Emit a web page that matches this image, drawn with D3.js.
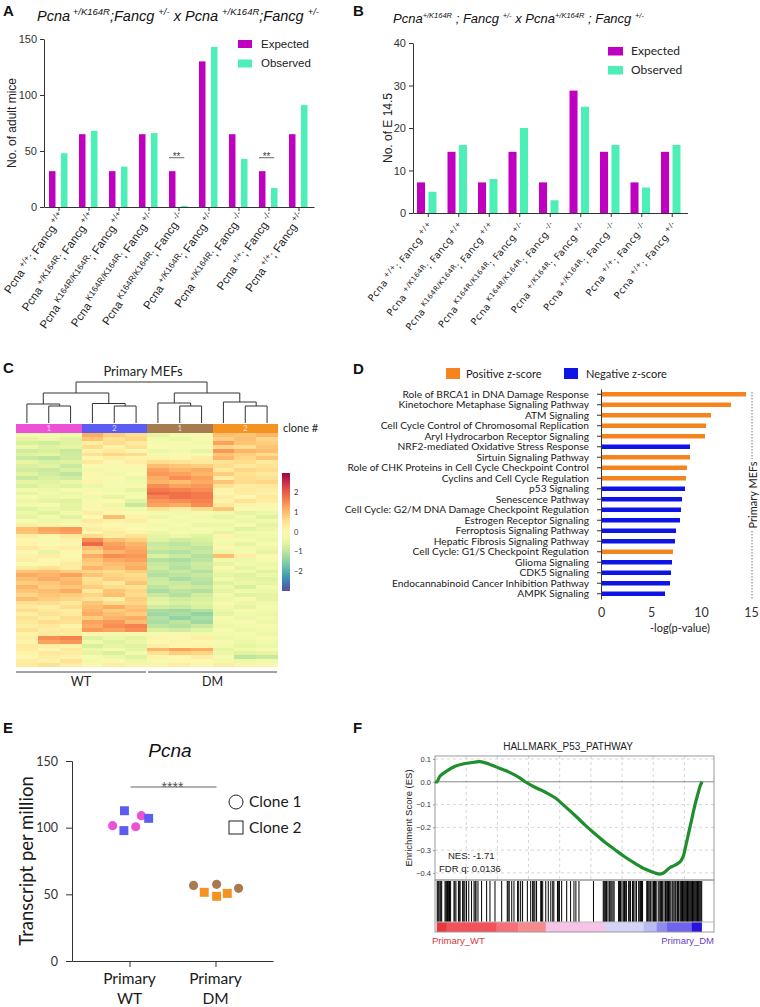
<!DOCTYPE html>
<html><head><meta charset="utf-8">
<script src="https://cdn.jsdelivr.net/npm/d3@7/dist/d3.min.js"></script>
<style>html,body{margin:0;padding:0;background:#fff}svg{display:block}</style>
</head><body>
<svg id="fig" width="760" height="1007" xmlns="http://www.w3.org/2000/svg"></svg>
<script>
// ================= DATA =================
const seriesNames = ["Expected", "Observed"];
const pcnaGenotype = ["+/+","+/K164R","K164R/K164R","K164R/K164R","K164R/K164R","+/K164R","+/K164R","+/+","+/+"];
const fancgGenotype = ["+/+","+/+","+/+","+/-","-/-","+/-","-/-","-/-","+/-"];
// Panel A
const adultExpected = [32,65,32,65,32,130,65,32,65];
const adultObserved = [48,68,36,66,1,143,43,17,91];
const adultTicks = [0,50,100,150];
const adultSigGroups = [4,7];
const adultSigLevel = 44;
// Panel B
const embryoExpected = [7.2,14.4,7.2,14.4,7.2,28.8,14.4,7.2,14.4];
const embryoObserved = [5,16,8,20,3,25,16,6,16];
const embryoTicks = [0,10,20,30,40];
// Panel C
const sampleGroup = ["WT1","WT1","WT1","WT2","WT2","WT2","DM1","DM1","DM1","DM2","DM2","DM2"];
const groupClone = {WT1:"1", WT2:"2", DM1:"1", DM2:"2"};
const genotypeNames = ["WT","DM"];
const colorbarTicks = [2,1,0,-1,-2];
const dendrogram = {h:41, c:[
  {h:30, c:[{h:19, c:[{leaf:0},{h:17, c:[{leaf:1},{leaf:2}]}]},
            {h:19.5, c:[{leaf:3},{h:17, c:[{leaf:4},{leaf:5}]}]}]},
  {h:30, c:[{h:20, c:[{leaf:6},{h:17, c:[{leaf:7},{leaf:8}]}]},
            {h:21, c:[{leaf:9},{h:17, c:[{leaf:10},{leaf:11}]}]}]}]};
const heatValues = [
[-0.2,-0.1,-0.3, 1.2,0.8,0.6, -0.5,-0.3,-0.2, 1.0,0.9,1.1],
[-0.5,-0.4,-0.6, 0.9,0.5,0.7, -0.3,-0.4,-0.1, 0.8,1.0,0.7],
[-0.7,-0.8,-0.6, 0.3,0.6,0.4, -0.2,-0.1,-0.3, 1.3,0.9,0.8],
[-0.4,-0.6,-0.5, 0.6,0.2,0.5, 0.0,-0.2,-0.1, 0.7,0.6,0.9],
[-0.8,-0.7,-0.9, 0.2,0.4,0.1, -0.4,-0.3,-0.5, 1.4,1.1,1.0],
[-0.6,-0.5,-0.8, 0.5,0.7,0.6, -0.1,0.0,-0.2, 0.9,0.8,0.6],
[-0.9,-1.0,-0.8, 0.1,0.3,0.2, 0.2,0.1,0.3, 1.1,0.7,0.9],
[-0.5,-0.7,-0.6, 0.4,0.1,0.3, 0.6,0.5,0.4, 0.5,0.6,0.4],
[-0.7,-0.6,-0.9, 0.0,-0.2,0.1, 1.0,0.9,0.8, 0.6,0.4,0.5],
[-0.8,-0.9,-0.7, -0.3,-0.1,-0.2, 1.3,1.1,1.2, 0.4,0.7,0.6],
[-0.6,-0.8,-1.0, 0.1,-0.3,0.0, 1.4,1.3,1.1, 0.8,0.5,0.4],
[-0.9,-0.7,-0.8, -0.2,0.0,-0.4, 1.2,1.5,1.3, 0.3,0.6,0.5],
[-0.5,-0.6,-0.4, 0.2,-0.1,-0.3, 1.1,1.0,1.2, 0.9,0.6,0.7],
[-0.7,-0.5,-0.6, -0.4,-0.2,-0.1, 1.5,1.3,1.4, 0.5,0.3,0.4],
[-0.3,-0.4,-0.2, -0.1,-0.3,-0.5, 1.7,1.6,1.5, 0.2,0.4,0.3],
[-0.5,-0.3,-0.4, 0.0,-0.2,-0.3, 1.9,1.8,1.7, 0.1,0.3,0.2],
[-0.2,-0.4,-0.3, -0.3,-0.5,-0.2, 1.6,1.8,1.7, 0.3,0.1,0.4],
[-0.4,-0.5,-0.6, -0.2,0.0,-0.6, 1.4,1.5,1.6, 0.2,0.5,0.3],
[-0.3,-0.2,-0.5, 0.1,-0.4,-0.9, 1.3,1.2,1.5, 0.4,0.2,0.1],
[-0.6,-0.4,-0.5, -0.1,0.2,-0.3, 0.5,0.3,0.6, 0.9,0.0,-0.2],
[-0.4,-0.6,-0.3, 0.3,0.1,0.0, -0.2,-0.3,-0.1, -0.3,-0.5,-0.4],
[-0.5,-0.3,-0.6, 0.0,1.0,0.2, -0.4,-0.2,-0.3, -0.5,-0.3,-0.6],
[-0.2,-0.4,-0.3, 0.4,0.2,0.3, 0.0,-0.3,-0.2, -0.2,-0.4,-0.3],
[0.3,0.2,0.1, 0.2,0.1,-0.1, -0.3,-0.1,-0.4, -0.4,-0.2,-0.5],
[1.0,1.3,1.4, 0.3,0.2,0.0, -0.2,-0.3,-0.1, -0.3,-0.6,-0.4],
[0.9,1.2,1.3, 0.1,0.4,0.2, -0.4,-0.2,-0.3, -0.5,-0.3,-0.2],
[0.3,0.1,0.4, 0.6,0.3,0.5, -0.5,-0.4,-0.6, 0.2,-0.4,-0.3],
[0.1,-0.2,0.2, 1.5,1.0,0.8, -0.6,-0.8,-0.7, -0.2,-0.1,-0.4],
[0.2,0.0,0.1, 1.9,1.3,1.1, -0.9,-1.0,-0.8, -0.3,-0.5,-0.2],
[0.4,0.2,0.3, 1.0,1.4,1.2, -0.8,-0.9,-1.0, 0.1,-0.3,-0.4],
[0.0,-0.5,0.1, 0.7,1.1,1.3, -1.0,-1.1,-0.9, -0.4,-0.2,-0.5],
[0.2,0.3,0.0, 1.2,1.5,1.4, -0.7,-0.9,-1.1, 1.0,0.3,0.0],
[0.3,0.1,0.2, 0.9,1.2,1.3, -1.1,-1.2,-1.0, -0.3,-0.4,-0.2],
[-0.2,0.1,0.4, 0.8,1.0,1.1, -0.9,-1.0,-0.8, -0.5,-0.3,-0.4],
[0.4,0.5,0.3, 1.1,0.9,1.2, -0.8,-1.1,-0.9, -0.2,-0.5,-0.3],
[0.9,1.0,0.8, 0.7,0.6,0.8, -1.0,-0.9,-1.1, -0.4,-0.3,-0.6],
[1.2,1.1,1.3, 0.9,0.7,0.6, -1.1,-1.0,-0.9, -0.5,-0.6,-0.4],
[1.0,1.2,1.0, 0.5,0.8,0.7, -0.9,-1.2,-1.0, -0.3,-0.5,-0.6],
[0.8,0.9,1.1, 0.6,0.4,0.9, -0.8,-0.9,-1.1, -0.6,-0.4,-0.5],
[1.1,0.8,0.9, 0.8,0.6,0.5, -1.0,-0.8,-0.9, -0.4,-0.7,-0.3],
[0.9,1.0,1.2, 0.4,0.9,0.7, -1.2,-1.0,-1.1, -0.5,-0.3,-0.4],
[0.7,0.9,0.8, 0.7,1.0,0.6, -0.9,-1.1,-0.8, -0.3,-0.6,-0.5],
[1.0,0.8,0.7, 0.5,0.3,0.8, -0.6,-0.8,-0.7, -0.4,-0.2,-0.5],
[0.5,0.6,0.4, 0.9,0.6,0.7, -0.5,-0.7,-0.6, -0.2,-0.4,-0.3],
[0.4,0.3,0.6, 1.0,1.2,0.9, -0.8,-0.9,-0.7, -0.3,-0.5,-0.2],
[0.6,0.4,0.3, 1.1,0.8,1.0, -1.2,-1.3,-1.1, -0.4,-0.2,-0.3],
[0.3,0.5,0.4, 1.2,1.0,0.8, -1.3,-1.2,-1.4, -0.5,-0.3,-0.4],
[0.5,0.3,0.6, 0.8,1.1,1.2, -1.1,-1.4,-1.2, -0.2,-0.4,-0.3],
[0.4,0.6,0.5, 1.3,1.4,1.0, -1.2,-1.0,-1.3, -0.3,-0.1,-0.4],
[0.3,0.4,0.2, 1.2,1.5,1.6, -1.0,-1.1,-0.9, -0.4,-0.3,-0.2],
[0.5,0.3,0.4, 1.4,1.3,1.5, -0.7,-0.8,-0.6, -0.2,-0.4,-0.3],
[0.2,0.4,0.3, 0.1,-0.3,-0.2, -0.2,-0.1,-0.3, -0.3,-0.2,-0.4],
[0.3,1.5,1.6, -0.6,-0.4,-0.5, 0.2,0.1,0.3, -0.4,-0.3,-0.2],
[0.2,1.3,1.4, -0.3,-0.6,-0.4, 0.0,0.2,0.1, -0.2,-0.4,-0.3],
[0.4,0.3,0.2, -0.7,-0.5,-0.6, 0.3,0.1,0.2, -0.3,-0.5,-0.4],
[0.3,0.1,0.4, -0.4,-0.2,-0.5, 1.1,1.3,1.2, -0.5,-0.3,-0.2],
[0.2,0.4,0.3, -0.5,-0.7,-0.3, 0.5,0.8,0.7, -0.4,-0.6,-0.5],
[0.1,0.3,0.2, -0.2,-0.4,-0.6, 0.2,0.0,0.3, -0.2,-1.0,-0.9],
[0.3,0.2,0.5, -0.3,-0.1,-0.4, -0.2,0.1,0.0, -0.3,-0.4,-0.3],
[0.4,0.5,0.3, 0.1,0.3,0.2, 0.2,0.3,0.1, 0.3,0.2,0.1]];
// Panel D
const pathwayNames = ["Role of BRCA1 in DNA Damage Response","Kinetochore Metaphase Signaling Pathway","ATM Signaling",
 "Cell Cycle Control of Chromosomal Replication","Aryl Hydrocarbon Receptor Signaling","NRF2-mediated Oxidative Stress Response",
 "Sirtuin Signaling Pathway","Role of CHK Proteins in Cell Cycle Checkpoint Control","Cyclins and Cell Cycle Regulation",
 "p53 Signaling","Senescence Pathway","Cell Cycle: G2/M DNA Damage Checkpoint Regulation","Estrogen Receptor Signaling",
 "Ferroptosis Signaling Pathway","Hepatic Fibrosis Signaling Pathway","Cell Cycle: G1/S Checkpoint Regulation",
 "Glioma Signaling","CDK5 Signaling","Endocannabinoid Cancer Inhibition Pathway","AMPK Signaling"];
const pathwayLogP = [14.5,13.0,11.0,10.5,10.4,8.9,8.9,8.6,8.5,8.4,8.1,8.0,7.9,7.5,7.4,7.2,7.1,7.0,6.9,6.4];
const pathwayZ = ["pos","pos","pos","pos","pos","neg","pos","pos","pos","neg","neg","neg","neg","neg","neg","pos","neg","neg","neg","neg"];
const logPTicks = [0,5,10,15];
// Panel E
const tpmCategories = ["WT","DM"];
const tpmGroup = ["WT","WT","WT","WT","WT","WT","DM","DM","DM","DM","DM","DM"];
const tpmClone = [1,1,1,2,2,2,1,1,1,2,2,2];
const tpmValue = [101.5,100.7,109.0,112.7,97.8,107.0, 56.7,57.5,54.5,51.5,48.5,50.7];
const tpmDodge = [-1.5,0.55,1.05,-0.45,-0.5,1.7, -1.95,0.1,2.05,-1.0,0.1,1.05];
const tpmTicks = [0,50,100,150];
const tpmSigLevel = 130.5;
// Panel F
const esRankPct = [0,0.7,1.8,4.3,7.2,10.8,14.3,16.1,19.7,23.3,26.9,30.5,32.3,35.8,39.4,43.0,46.6,50.2,53.8,57.3,60.9,64.5,68.1,71.7,75.3,78.9,80.6,82.4,84.2,86.0,87.8,88.9,89.9,91.0,92.1,93.2,94.3,95.0,95.7];
const esScore = [0,0,0.025,0.048,0.068,0.08,0.086,0.088,0.076,0.058,0.04,0.016,0,-0.024,-0.045,-0.07,-0.108,-0.148,-0.19,-0.228,-0.265,-0.298,-0.33,-0.358,-0.383,-0.4,-0.405,-0.396,-0.376,-0.366,-0.352,-0.33,-0.28,-0.22,-0.16,-0.1,-0.05,-0.02,0];
const hitRankPct = [0.8,1.1,1.4,1.8,2.1,2.4,3.6,3.9,4.2,4.5,4.8,5.2,5.6,6.8,7.1,7.5,8.4,8.7,9.0,9.9,10.3,10.7,11.3,12.1,13.1,14.0,14.4,14.7,15.4,16.7,18.5,19.7,21.5,23.9,25.9,26.2,26.6,27.5,28.3,29.6,30.0,30.7,31.4,33.1,34.3,35.0,35.4,35.8,36.4,37.9,38.2,38.6,39.7,40.6,41.5,42.2,42.6,43.9,44.2,44.6,45.4,47.2,48.6,49.8,50.5,51.6,56.8,
 60.3,60.6,60.9,61.2,61.5,62.0,62.5,63.0,63.4,63.8,64.2,65.8,66.1,66.5,67.0,67.5,67.9,68.2,68.6,69.4,69.8,70.1,70.8,71.2,71.7,72.2,73.0,73.4,73.7,74.0,74.4,75.9,76.2,76.6,77.0,77.3,77.8,78.3,78.7,79.0,79.5,80.2,80.6,80.9,81.2,81.6,82.1,82.6,82.9,83.3,83.7,84.0,84.5,85.0,85.3,85.7,86.1,86.4,86.9,87.3,
 87.8,88.1,88.4,88.7,89.0,89.3,89.6,89.9,90.2,90.5,90.8,91.1,91.4,91.7,92.0,92.3,92.6,92.9,93.2,93.5,93.8,94.1,94.4,94.7,95.0,95.3,95.6];
const rankBarEdges = [0.6,4.2,22.1,29.9,39.7,60.9,74.7,79.4,83.0,92.0,95.6];
const geneListSize = 17900;
const esTicks = [0.1,0.0,-0.1,-0.2,-0.3,-0.4];
const nesText = "NES: -1.71";
const fdrText = "FDR q: 0.0136";

// ================= STYLE =================
const svg = d3.select("#fig");
const ARIAL = "'Liberation Sans', Arial, sans-serif";
const MYR = "Lato, 'Open Sans', sans-serif";
const VERD = "'DejaVu Sans', Verdana, sans-serif";
const COL = {Expected:"#bf00c0", Observed:"#4cf0b6"};
const groupColor = {WT1:"#ec52d6", WT2:"#5c5cf2", DM1:"#a67b50", DM2:"#f49222"};
const zColor = {pos:"#f5841f", neg:"#0f14e6"};
const rankBarColors = ["#e33a3f","#f25258","#f6707a","#f78a8e","#f6c4e6","#d4d4f7","#babaf5","#8c8cf0","#6e64ee","#2a12de"];

function rich(text, parts, supSize, shift){
  let cur = 0;
  parts.forEach(p=>{
    const target = p.sup ? -shift : 0;
    const ts = text.append("tspan").text(p.t);
    if (target!==cur) ts.attr("dy", target-cur);
    if (p.sup) ts.attr("font-size", supSize);
    cur = target;
  });
}
function panelLabel(t,x,y){
  svg.append("text").attr("x",x).attr("y",y).attr("font-family",ARIAL).attr("font-weight","bold")
    .attr("font-size",15).attr("fill","#111").text(t);
}
function styleAxis(g, font, size, col){
  g.selectAll("path,line").attr("stroke",col||"#333").attr("stroke-width",1);
  g.selectAll("text").attr("font-family",font).attr("font-size",size).attr("fill","#333");
}

// ================= PANELS A & B =================
function barPanel(c){
  const g = svg.append("g");
  const y = d3.scaleLinear([0,c.yMax],[c.y0,c.y1]);
  const x = d3.scaleBand(d3.range(c.exp.length),[c.x0,c.x1]);
  const xi = d3.scaleBand(seriesNames,c.inner).paddingInner(c.pad);
  const rows = c.exp.map((e,i)=>({i, vals:[{s:seriesNames[0],v:e},{s:seriesNames[1],v:c.obs[i]}]}));
  g.selectAll("g.grp").data(rows).join("g").attr("class","grp")
    .attr("transform",d=>`translate(${x(d.i)},0)`)
    .selectAll("rect").data(d=>d.vals).join("rect")
    .attr("x",d=>xi(d.s)).attr("width",xi.bandwidth())
    .attr("y",d=>y(d.v)).attr("height",d=>y(0)-y(d.v)).attr("fill",d=>COL[d.s]);
  const ya = g.append("g").attr("transform",`translate(${c.x0},0)`)
    .call(d3.axisLeft(y).tickValues(c.ticks).tickSize(4).tickSizeOuter(0).tickPadding(3));
  styleAxis(ya, c.tickFont, c.tickSize);
  const xa = g.append("g").attr("transform",`translate(0,${c.y0})`)
    .call(d3.axisBottom(x).tickSize(4).tickSizeOuter(0).tickFormat(""));
  styleAxis(xa, c.tickFont, c.tickSize);
  x.domain().forEach(i=>{
    const t = g.append("text")
      .attr("transform",`translate(${x(i)+x.bandwidth()/2+c.lblDx},${c.y0+c.lblDy}) rotate(${c.lblRot})`)
      .attr("text-anchor","end").attr("font-family",c.lblFont).attr("font-size",c.lblSize)
      .attr("fill","#222").attr("letter-spacing",c.lblSpacing||0);
    rich(t,[{t:"Pcna"},{t:" "+pcnaGenotype[i],sup:1},{t:"; Fancg"},{t:" "+fancgGenotype[i],sup:1}], c.lblSup, c.lblShift);
  });
  g.append("text").attr("transform",`translate(${c.yTitleX},${(c.y0+c.y1)/2}) rotate(-90)`)
    .attr("text-anchor","middle").attr("font-family",c.tickFont).attr("font-size",12).attr("fill","#222").text(c.yTitle);
  const L = c.legend;
  seriesNames.forEach((s,k)=>{
    g.append("rect").attr("x",L.x).attr("y",L.y+k*L.dy).attr("width",L.w).attr("height",L.h).attr("fill",COL[s]);
    g.append("text").attr("x",L.tx).attr("y",L.y+k*L.dy+L.h-0.5).attr("font-family",L.font).attr("font-size",L.size)
      .attr("fill","#222").text(s);
  });
  const tt = g.append("text").attr("x",c.titleX).attr("y",c.titleY).attr("font-family",ARIAL)
    .attr("font-style","italic").attr("font-size",c.titleSize).attr("fill","#111");
  rich(tt, c.titleParts, c.titleSup, c.titleShift);
  return {x,xi,y,g};
}

panelLabel("A",3,16);
const A = barPanel({exp:adultExpected, obs:adultObserved, yMax:150, y0:207, y1:39, x0:44, x1:314,
  inner:[5,23.5], pad:0.46, ticks:adultTicks, tickFont:ARIAL, tickSize:11,
  lblDx:6, lblDy:9, lblRot:-55, lblFont:ARIAL, lblSize:11.5, lblSup:8.5, lblShift:4.5, lblSpacing:0.1,
  yTitle:"No. of adult mice", yTitleX:16,
  legend:{x:238,y:40,dy:19.5,w:14,h:8,tx:261,font:ARIAL,size:11.5},
  titleX:37, titleY:21, titleSize:14.5, titleSup:9.5, titleShift:6,
  titleParts:[{t:"Pcna"},{t:" +/K164R",sup:1},{t:";Fancg "},{t:"+/-",sup:1},{t:" x Pcna "},{t:"+/K164R",sup:1},{t:";Fancg "},{t:"+/-",sup:1}]});
adultSigGroups.forEach(i=>{
  const x1 = A.x(i)+A.xi(seriesNames[0]);
  const x2 = A.x(i)+A.xi(seriesNames[1])+A.xi.bandwidth()/2;
  A.g.append("line").attr("x1",x1).attr("x2",x2).attr("y1",A.y(adultSigLevel)).attr("y2",A.y(adultSigLevel))
    .attr("stroke","#666").attr("stroke-width",1);
  A.g.append("text").attr("x",(x1+x2)/2).attr("y",A.y(adultSigLevel)+2).attr("text-anchor","middle")
    .attr("font-family",ARIAL).attr("font-size",10).attr("fill","#444").text("**");
});

panelLabel("B",353,16);
barPanel({exp:embryoExpected, obs:embryoObserved, yMax:40, y0:213, y1:43, x0:413, x1:687.5,
  inner:[4,23.5], pad:0.3, ticks:embryoTicks, tickFont:ARIAL, tickSize:11,
  lblDx:6, lblDy:13, lblRot:-51, lblFont:VERD, lblSize:9.7, lblSup:7, lblShift:4.2, lblSpacing:0.4,
  yTitle:"No. of E 14.5", yTitleX:392,
  legend:{x:608,y:47,dy:19,w:15,h:8.5,tx:631,font:MYR,size:12},
  titleX:393, titleY:23, titleSize:13, titleSup:7.5, titleShift:5,
  titleParts:[{t:"Pcna"},{t:"+/K164R",sup:1},{t:" ; Fancg "},{t:"+/-",sup:1},{t:"  x Pcna"},{t:"+/K164R",sup:1},{t:" ; Fancg "},{t:"+/-",sup:1}]});

// ================= PANEL C =================
panelLabel("C",3,373);
const xH = d3.scaleBand(d3.range(sampleGroup.length),[16,278]);
const yH = d3.scaleBand(d3.range(heatValues.length),[433,667]);
const heatColor = d3.scaleSequential(d3.interpolateSpectral).domain([3,-3]);
const cells = [];
heatValues.forEach((row,r)=>row.forEach((v,c)=>cells.push({r,c,v})));
svg.append("g").selectAll("rect").data(cells).join("rect")
  .attr("x",d=>xH(d.c)).attr("y",d=>yH(d.r)).attr("width",xH.bandwidth()+0.3).attr("height",yH.bandwidth()+0.3)
  .attr("fill",d=>heatColor(d.v)).attr("shape-rendering","crispEdges");
svg.append("g").selectAll("rect").data(sampleGroup).join("rect")
  .attr("x",(d,i)=>xH(i)).attr("y",424).attr("width",xH.bandwidth()+0.3).attr("height",8.5)
  .attr("fill",d=>groupColor[d]).attr("shape-rendering","crispEdges");
Object.keys(groupColor).forEach(gname=>{
  const idx = sampleGroup.map((s,i)=>s===gname?i:-1).filter(i=>i>=0);
  const cx = d3.mean(idx,i=>xH(i)+xH.bandwidth()/2);
  svg.append("text").attr("x",cx).attr("y",431).attr("text-anchor","middle").attr("font-family",MYR)
    .attr("font-size",8).attr("fill","#f4e8f4").attr("opacity",0.85).text(groupClone[gname]);
});
svg.append("text").attr("x",283).attr("y",432).attr("font-family",MYR).attr("font-size",11).attr("fill","#222").text("clone #");
const yDen = d3.scaleLinear([0,41],[423,382]);
const root = d3.hierarchy(dendrogram, d=>d.c);
root.eachAfter(n=>{
  if(!n.children){ n.px = xH(n.data.leaf)+xH.bandwidth()/2; n.ph = 0; }
  else { n.px = d3.mean(n.children,k=>k.px); n.ph = n.data.h; }
});
const denG = svg.append("g");
root.each(n=>{
  if(!n.children) return;
  const [a,b] = n.children;
  const p = d3.path();
  p.moveTo(a.px, yDen(a.ph)); p.lineTo(a.px, yDen(n.ph)); p.lineTo(b.px, yDen(n.ph)); p.lineTo(b.px, yDen(b.ph));
  denG.append("path").attr("d",p.toString()).attr("fill","none").attr("stroke","#333").attr("stroke-width",1);
});
svg.append("text").attr("x",143).attr("y",376).attr("text-anchor","middle").attr("font-family",MYR)
  .attr("font-size",13).attr("fill","#222").text("Primary MEFs");
const defs = svg.append("defs");
const grad = defs.append("linearGradient").attr("id","cbar").attr("x1",0).attr("y1",0).attr("x2",0).attr("y2",1);
d3.range(0,1.0001,0.05).forEach(t=>grad.append("stop").attr("offset",t).attr("stop-color",d3.interpolateSpectral(t)));
const yCB = d3.scaleLinear([-3,3],[591,473]);
svg.append("rect").attr("x",282).attr("y",yCB(3)).attr("width",8).attr("height",yCB(-3)-yCB(3)).attr("fill","url(#cbar)");
svg.append("g").selectAll("text").data(colorbarTicks).join("text")
  .attr("x",294).attr("y",d=>yCB(d)).attr("dy","0.35em").attr("font-family",MYR).attr("font-size",7.5)
  .attr("fill","#333").text(d=>d<0?"\u2212"+Math.abs(d):d);
genotypeNames.forEach((gn,k)=>{
  const idx = sampleGroup.map((s,i)=>s.startsWith(gn)?i:-1).filter(i=>i>=0);
  const x1 = xH(d3.min(idx))+(k?1:0), x2 = xH(d3.max(idx))+xH.bandwidth()-1;
  svg.append("line").attr("x1",x1).attr("x2",x2).attr("y1",672).attr("y2",672).attr("stroke","#444").attr("stroke-width",1);
  svg.append("text").attr("x",(x1+x2)/2).attr("y",686).attr("text-anchor","middle").attr("font-family",MYR)
    .attr("font-size",12.5).attr("fill","#222").text(gn);
});

// ================= PANEL D =================
panelLabel("D",353,374);
const xD = d3.scaleLinear([0,15],[601,751]);
const yD = d3.scaleBand(pathwayNames,[389,599]);
const barH = 4.5;
svg.append("g").selectAll("rect").data(pathwayNames).join("rect")
  .attr("x",xD(0)).attr("y",d=>yD(d)+yD.bandwidth()/2-barH/2)
  .attr("width",(d,i)=>xD(pathwayLogP[i])-xD(0)).attr("height",barH)
  .attr("fill",(d,i)=>zColor[pathwayZ[i]]);
const yDa = svg.append("g").attr("transform",`translate(${xD(0)},0)`)
  .call(d3.axisLeft(yD).tickSize(4).tickSizeOuter(0).tickPadding(8));
styleAxis(yDa, MYR, 10.2);
yDa.selectAll("text").attr("fill","#1a1a1a");
const xDa = svg.append("g").attr("transform",`translate(0,600)`)
  .call(d3.axisBottom(xD).tickValues(logPTicks).tickSize(0).tickPadding(8));
styleAxis(xDa, MYR, 12.5);
xDa.select(".domain").remove();
svg.append("text").attr("x",xD(7.9)).attr("y",632).attr("text-anchor","middle").attr("font-family",MYR)
  .attr("font-size",11).attr("fill","#222").text("-log(p-value)");
[["pos","Positive z-score",446,466],["neg","Negative z-score",564,586]].forEach(([k,t,sx,tx])=>{
  svg.append("rect").attr("x",sx).attr("y",368).attr("width",14).attr("height",11).attr("fill",zColor[k]);
  svg.append("text").attr("x",tx).attr("y",377.5).attr("font-family",MYR).attr("font-size",11).attr("fill","#222").text(t);
});
svg.append("line").attr("x1",752).attr("x2",752).attr("y1",392).attr("y2",459).attr("stroke","#777").attr("stroke-dasharray","1.5,1.5");
svg.append("line").attr("x1",752).attr("x2",752).attr("y1",531).attr("y2",599).attr("stroke","#777").attr("stroke-dasharray","1.5,1.5");
svg.append("text").attr("transform","translate(757,495) rotate(-90)").attr("text-anchor","middle")
  .attr("font-family",MYR).attr("font-size",11).attr("fill","#222").text("Primary MEFs");

// ================= PANEL E =================
panelLabel("E",3,733);
const yE = d3.scaleLinear([0,150],[961,761]);
const xE = d3.scalePoint(tpmCategories,[72,273]).padding(0.669);
const dodgeE = d3.scaleLinear([-1,1],[-11.25,11.25]);
const cloneColor = {"WT1":groupColor.WT1,"WT2":groupColor.WT2,"DM1":groupColor.DM1,"DM2":groupColor.DM2};
const yEa = svg.append("g").attr("transform","translate(72,0)")
  .call(d3.axisLeft(yE).tickValues(tpmTicks).tickSize(6).tickPadding(8));
styleAxis(yEa, MYR, 12.5);
const xEa = svg.append("g").attr("transform","translate(0,961)")
  .call(d3.axisBottom(xE).tickSize(6).tickSizeOuter(0).tickFormat(""));
styleAxis(xEa, MYR, 15);
tpmCategories.forEach(cat=>{
  const t = svg.append("text").attr("x",xE(cat)).attr("y",984).attr("text-anchor","middle")
    .attr("font-family",MYR).attr("font-size",15.5).attr("fill","#1a1a1a");
  t.append("tspan").attr("x",xE(cat)).text("Primary");
  t.append("tspan").attr("x",xE(cat)).attr("dy",20).text(cat);
});
svg.append("text").attr("transform","translate(33,861) rotate(-90)").attr("text-anchor","middle")
  .attr("font-family",MYR).attr("font-size",18.5).attr("fill","#1a1a1a").text("Transcript per million");
svg.append("text").attr("x",170).attr("y",757).attr("text-anchor","middle").attr("font-family",ARIAL)
  .attr("font-style","italic").attr("font-size",19).attr("fill","#111").text("Pcna");
svg.append("line").attr("x1",xE("WT")+1).attr("x2",xE("DM")+1).attr("y1",yE(tpmSigLevel)).attr("y2",yE(tpmSigLevel))
  .attr("stroke","#999").attr("stroke-width",1.3);
svg.append("text").attr("x",(xE("WT")+xE("DM"))/2).attr("y",yE(tpmSigLevel)+5).attr("text-anchor","middle")
  .attr("font-family",ARIAL).attr("font-size",14).attr("fill","#555").text("****");
const ptsE = tpmValue.map((v,i)=>({v, g:tpmGroup[i], c:tpmClone[i], d:tpmDodge[i]}));
svg.append("g").selectAll("path").data(ptsE).join("path")
  .attr("transform",d=>`translate(${xE(d.g)+dodgeE(d.d)},${yE(d.v)})`)
  .attr("d",d=>d3.symbol(d.c===1?d3.symbolCircle:d3.symbolSquare, d.c===1?66:80)())
  .attr("fill",d=>cloneColor[d.g+d.c]);
svg.append("circle").attr("cx",236).attr("cy",802).attr("r",7).attr("fill","none").attr("stroke","#222").attr("stroke-width",1);
svg.append("rect").attr("x",229).attr("y",821).attr("width",14).attr("height",13).attr("fill","none").attr("stroke","#222").attr("stroke-width",1);
svg.append("text").attr("x",249).attr("y",807).attr("font-family",MYR).attr("font-size",15.5).attr("fill","#1a1a1a").text("Clone 1");
svg.append("text").attr("x",249).attr("y",833).attr("font-family",MYR).attr("font-size",15.5).attr("fill","#1a1a1a").text("Clone 2");

// ================= PANEL F =================
panelLabel("F",353,733);
const xF = d3.scaleLinear([0,100],[435,714]);
const xG = d3.scaleLinear([0,geneListSize],[435,714]);
const yF = d3.scaleLinear([-0.431,0.113],[880,756]);
const fG = svg.append("g");
fG.selectAll("line.vg").data(d3.range(2000,geneListSize,2000)).join("line").attr("class","vg")
  .attr("x1",d=>xG(d)).attr("x2",d=>xG(d)).attr("y1",756).attr("y2",880)
  .attr("stroke","#ccc").attr("stroke-dasharray","3,3").attr("stroke-width",0.8);
fG.selectAll("line.hg").data(esTicks.filter(d=>d!==0)).join("line").attr("class","hg")
  .attr("x1",435).attr("x2",714).attr("y1",d=>yF(d)).attr("y2",d=>yF(d))
  .attr("stroke","#ccc").attr("stroke-dasharray","3,3").attr("stroke-width",0.8);
fG.append("line").attr("x1",435).attr("x2",714).attr("y1",yF(0)).attr("y2",yF(0)).attr("stroke","#888").attr("stroke-width",1);
fG.selectAll("line.hit").data(hitRankPct).join("line").attr("class","hit")
  .attr("x1",d=>xF(d)).attr("x2",d=>xF(d)).attr("y1",881).attr("y2",922)
  .attr("stroke","#000").attr("stroke-width",1);
fG.selectAll("rect.rb").data(rankBarColors).join("rect").attr("class","rb")
  .attr("x",(d,i)=>xF(rankBarEdges[i])).attr("width",(d,i)=>xF(rankBarEdges[i+1])-xF(rankBarEdges[i])+0.2)
  .attr("y",922).attr("height",10).attr("fill",d=>d);
fG.append("rect").attr("x",435).attr("y",756).attr("width",279).attr("height",124).attr("fill","none").attr("stroke","#999");
fG.append("rect").attr("x",435).attr("y",880).attr("width",279).attr("height",52).attr("fill","none").attr("stroke","#999");
fG.append("line").attr("x1",435).attr("x2",714).attr("y1",922).attr("y2",922).attr("stroke","#bbb");
fG.append("path").datum(esRankPct.map((r,i)=>[r,esScore[i]]))
  .attr("d",d3.line().x(d=>xF(d[0])).y(d=>yF(d[1])).curve(d3.curveCatmullRom))
  .attr("fill","none").attr("stroke","#1f8f2d").attr("stroke-width",3.2).attr("stroke-linejoin","round");
const yFa = fG.append("g").attr("transform","translate(435,0)")
  .call(d3.axisLeft(yF).tickValues(esTicks).tickSize(2).tickPadding(2).tickFormat(d3.format(".1f")));
styleAxis(yFa, ARIAL, 7.5, "#999");
yFa.select(".domain").remove();
fG.append("text").attr("transform","translate(412,818) rotate(-90)").attr("text-anchor","middle")
  .attr("font-family",ARIAL).attr("font-size",9.5).attr("fill","#222").text("Enrichment Score (ES)");
fG.append("text").attr("x",568).attr("y",750).attr("text-anchor","middle").attr("font-family",ARIAL)
  .attr("font-size",10).attr("fill","#222").text("HALLMARK_P53_PATHWAY");
fG.append("text").attr("x",448).attr("y",859).attr("font-family",ARIAL).attr("font-size",9.5).attr("fill","#222").text(nesText);
fG.append("text").attr("x",439).attr("y",872).attr("font-family",ARIAL).attr("font-size",9.5).attr("fill","#222").text(fdrText);
fG.append("text").attr("x",432).attr("y",944).attr("font-family",ARIAL).attr("font-size",9.5).attr("fill","#d23a3a").text("Primary_WT");
fG.append("text").attr("x",714).attr("y",944).attr("text-anchor","end").attr("font-family",ARIAL).attr("font-size",9.5).attr("fill","#6b3fc2").text("Primary_DM");
</script>
</body></html>
